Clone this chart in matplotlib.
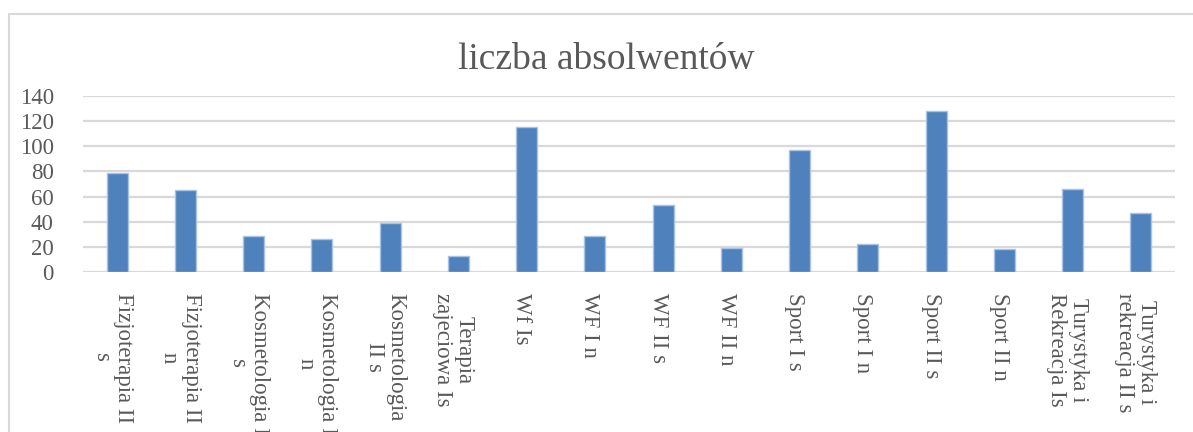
import matplotlib
matplotlib.use("Agg")
import matplotlib.pyplot as plt
import matplotlib.transforms as mtransforms
from matplotlib.patches import Rectangle

# ----------------------------
# data
# ----------------------------
categories = [
    "Fizjoterapia II\ns", "Fizjoterapia II\nn", "Kosmetologia I\ns", "Kosmetologia I\nn",
    "Kosmetologia\nII s", "Terapia\nzajeciowa Is", "Wf Is", "WF I n", "WF II s", "WF II n",
    "Sport I s", "Sport I n", "Sport II s", "Sport II n",
    "Turystyka i\nRekreacja Is", "Turystyka i\nrekreacja II s",
]
values = [79, 65, 29, 26, 39, 13, 115, 29, 53, 19, 97, 22, 128, 18, 66, 47]
yticks = [0, 20, 40, 60, 80, 100, 120, 140]
title = "liczba absolwentów"

plt.rcParams["font.family"] = ["Liberation Serif", "DejaVu Serif"]
TXT = "#595959"
GRID = "#d9d9d9"
W, H = 1193, 432

fig = plt.figure(figsize=(W / 100, H / 100), dpi=100)
fig.patch.set_facecolor("white")

# chart area frame (continues past right/bottom edges of the crop)
fig.patches.append(Rectangle((9 / W, -0.2), 1.2, (H - 14) / H + 0.2,
                             transform=fig.transFigure, fill=False,
                             edgecolor=GRID, linewidth=1.5))

ax = fig.add_axes([83 / W, 1 - 272 / H, (1175 - 83) / W, (272 - 96) / H])
x = list(range(len(categories)))
ax.bar(x, values, width=0.31, color="#4f81bd", edgecolor="#a9c3e3",
       linewidth=1.0, zorder=3)

ax.set_xlim(-0.5, len(categories) - 0.5)
ax.set_ylim(0, 140)
ax.set_yticks(yticks)
ax.yaxis.grid(True, color=GRID, linewidth=1.6, zorder=0)
ax.set_axisbelow(True)
for s in ax.spines.values():
    s.set_visible(False)
ax.tick_params(axis="y", length=0, pad=21, labelsize=16.5, labelcolor=TXT)
ax.tick_params(axis="x", length=0, pad=15, labelsize=16.5, labelcolor=TXT)
ax.set_xticks(x)
ax.set_xticklabels(categories, rotation=-90, va="top", ha="center",
                   multialignment="center", linespacing=1.05)

# labels sit a few pixels left of the bar centres in the original
shift = mtransforms.ScaledTranslation(-5 / 100, 0, fig.dpi_scale_trans)
for lab in ax.get_xticklabels():
    lab.set_transform(lab.get_transform() + shift)

fig.text(606 / W, 1 - 69 / H, title, ha="center", va="baseline",
         fontsize=27, color=TXT)

fig.savefig("out.png", dpi=100)
